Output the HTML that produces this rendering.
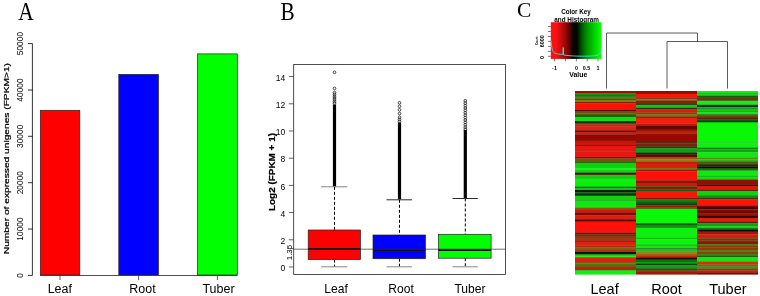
<!DOCTYPE html><html><head><meta charset="utf-8"><title>Figure</title>
<style>html,body{margin:0;padding:0;background:#fff;}body{width:760px;height:296px;overflow:hidden;font-family:"Liberation Sans", sans-serif;}svg{display:block}text{font-family:"Liberation Sans", sans-serif;fill:#000}.s{font-family:"Liberation Serif", serif}</style>
</head><body>
<svg style="will-change:transform" width="760" height="296" viewBox="0 0 760 296">
<rect width="760" height="296" fill="#fff"/>
<g id="panelA">
<text class="s" x="18.2" y="20.3" font-size="25" textLength="15.5" lengthAdjust="spacingAndGlyphs">A</text>
<path d="M32.4 275.4 V43.6" stroke="#000" stroke-width="0.8" fill="none"/>
<path d="M40 275.5 H237.5" stroke="#222" stroke-width="0.8" fill="none"/>
<path d="M32.4 275.4 H28" stroke="#000" stroke-width="0.8"/>
<text transform="translate(22.8 275.4) rotate(-90)" font-size="8.4" text-anchor="middle">0</text>
<path d="M32.4 229.0 H28" stroke="#000" stroke-width="0.8"/>
<text transform="translate(22.8 229.0) rotate(-90)" font-size="8.4" text-anchor="middle">10000</text>
<path d="M32.4 182.7 H28" stroke="#000" stroke-width="0.8"/>
<text transform="translate(22.8 182.7) rotate(-90)" font-size="8.4" text-anchor="middle">20000</text>
<path d="M32.4 136.3 H28" stroke="#000" stroke-width="0.8"/>
<text transform="translate(22.8 136.3) rotate(-90)" font-size="8.4" text-anchor="middle">30000</text>
<path d="M32.4 90.0 H28" stroke="#000" stroke-width="0.8"/>
<text transform="translate(22.8 90.0) rotate(-90)" font-size="8.4" text-anchor="middle">40000</text>
<path d="M32.4 43.6 H28" stroke="#000" stroke-width="0.8"/>
<text transform="translate(22.8 43.6) rotate(-90)" font-size="8.4" text-anchor="middle">50000</text>
<text transform="translate(8.7 158.6) rotate(-90) scale(1 0.76)" font-size="10.2" stroke="#000" stroke-width="0.3" text-anchor="middle">Number of expressed unigenes (FPKM&gt;1)</text>
<rect x="40.3" y="110.3" width="39.5" height="164.7" fill="#ff0000" stroke="#222" stroke-width="0.7"/>
<path d="M60.0 275.5 V280" stroke="#333" stroke-width="0.8"/>
<text transform="translate(59.8 293.2) scale(0.925 1)" font-size="13.5" text-anchor="middle">Leaf</text>
<rect x="118.8" y="74.4" width="39.6" height="200.6" fill="#0000ff" stroke="#222" stroke-width="0.7"/>
<path d="M138.6 275.5 V280" stroke="#333" stroke-width="0.8"/>
<text transform="translate(142.5 293.2) scale(0.925 1)" font-size="13.5" text-anchor="middle">Root</text>
<rect x="197.5" y="53.9" width="39.8" height="221.1" fill="#00ff00" stroke="#222" stroke-width="0.7"/>
<path d="M217.4 275.5 V280" stroke="#333" stroke-width="0.8"/>
<text transform="translate(218.5 293.2) scale(0.925 1)" font-size="13.5" text-anchor="middle">Tuber</text>
</g>
<g id="panelB">
<text class="s" x="280.6" y="20.1" font-size="24.5" textLength="14.2" lengthAdjust="spacingAndGlyphs">B</text>
<rect x="293.7" y="64.4" width="211.8" height="210.0" fill="none" stroke="#222" stroke-width="0.8"/>
<path d="M293.7 267.0 H288.8" stroke="#222" stroke-width="0.7"/>
<text x="285.2" y="271.1" font-size="8.5" text-anchor="end">0</text>
<path d="M293.7 239.8 H288.8" stroke="#222" stroke-width="0.7"/>
<text x="285.2" y="243.9" font-size="8.5" text-anchor="end">2</text>
<path d="M293.7 212.6 H288.8" stroke="#222" stroke-width="0.7"/>
<text x="285.2" y="216.7" font-size="8.5" text-anchor="end">4</text>
<path d="M293.7 185.4 H288.8" stroke="#222" stroke-width="0.7"/>
<text x="285.2" y="189.5" font-size="8.5" text-anchor="end">6</text>
<path d="M293.7 158.2 H288.8" stroke="#222" stroke-width="0.7"/>
<text x="285.2" y="162.3" font-size="8.5" text-anchor="end">8</text>
<path d="M293.7 131.0 H288.8" stroke="#222" stroke-width="0.7"/>
<text x="285.2" y="135.1" font-size="8.5" text-anchor="end">10</text>
<path d="M293.7 103.8 H288.8" stroke="#222" stroke-width="0.7"/>
<text x="285.2" y="107.9" font-size="8.5" text-anchor="end">12</text>
<path d="M293.7 76.6 H288.8" stroke="#222" stroke-width="0.7"/>
<text x="285.2" y="80.7" font-size="8.5" text-anchor="end">14</text>
<path d="M293.7 248.6 H288.8" stroke="#222" stroke-width="0.7"/>
<text transform="translate(291.5 252.6) rotate(-90)" font-size="7.8" text-anchor="middle">1.35</text>
<text transform="translate(275.3 172) rotate(-90)" font-size="8.6" font-weight="bold" text-anchor="middle" stroke="#000" stroke-width="0.2" textLength="78" lengthAdjust="spacingAndGlyphs">Log2 (FPKM + 1)</text>
<path d="M334.5 186.8 V230.0 M334.5 259.6 V267" stroke="#000" stroke-width="1" stroke-dasharray="3 2" fill="none"/>
<path d="M321.0 186.8 H347.3" stroke="#777" stroke-width="0.9" fill="none"/>
<path d="M321.0 266.8 H347.3" stroke="#888" stroke-width="1" fill="none"/>
<rect x="308.2" y="230.0" width="52.3" height="29.6" fill="#ff0000" stroke="#222" stroke-width="0.7"/>
<path d="M308.2 249.0 H360.5" stroke="#111" stroke-width="1.8"/>
<path d="M334.5 104.5 V186.3" stroke="#000" stroke-width="3.2"/>
<circle cx="334.5" cy="72.3" r="1.35" fill="none" stroke="#111" stroke-width="0.75"/>
<circle cx="334.5" cy="88.4" r="1.35" fill="none" stroke="#111" stroke-width="0.75"/>
<circle cx="334.5" cy="92.6" r="1.35" fill="none" stroke="#111" stroke-width="0.75"/>
<circle cx="334.5" cy="94.4" r="1.35" fill="none" stroke="#111" stroke-width="0.75"/>
<circle cx="334.5" cy="96.2" r="1.35" fill="none" stroke="#111" stroke-width="0.75"/>
<circle cx="334.5" cy="98.0" r="1.35" fill="none" stroke="#111" stroke-width="0.75"/>
<circle cx="334.5" cy="99.8" r="1.35" fill="none" stroke="#111" stroke-width="0.75"/>
<circle cx="334.5" cy="101.6" r="1.35" fill="none" stroke="#111" stroke-width="0.75"/>
<circle cx="334.5" cy="103.2" r="1.35" fill="none" stroke="#111" stroke-width="0.75"/>
<text transform="translate(336.0 292.8) scale(0.93 1)" font-size="13" text-anchor="middle">Leaf</text>
<path d="M399.5 199.8 V235.0 M399.5 258.7 V267" stroke="#000" stroke-width="1" stroke-dasharray="3 2" fill="none"/>
<path d="M386.5 199.8 H412.0" stroke="#111" stroke-width="0.9" fill="none"/>
<path d="M386.5 266.8 H412.0" stroke="#888" stroke-width="1" fill="none"/>
<rect x="373.0" y="235.0" width="52.4" height="23.7" fill="#0000ff" stroke="#222" stroke-width="0.7"/>
<path d="M373.0 250.0 H425.4" stroke="#111" stroke-width="1.8"/>
<path d="M399.5 122.5 V199.3" stroke="#000" stroke-width="3.2"/>
<circle cx="399.5" cy="102.8" r="1.35" fill="none" stroke="#111" stroke-width="0.75"/>
<circle cx="399.5" cy="106.3" r="1.35" fill="none" stroke="#111" stroke-width="0.75"/>
<circle cx="399.5" cy="109.9" r="1.35" fill="none" stroke="#111" stroke-width="0.75"/>
<circle cx="399.5" cy="113.6" r="1.35" fill="none" stroke="#111" stroke-width="0.75"/>
<circle cx="399.5" cy="117.3" r="1.35" fill="none" stroke="#111" stroke-width="0.75"/>
<circle cx="399.5" cy="119.5" r="1.35" fill="none" stroke="#111" stroke-width="0.75"/>
<circle cx="399.5" cy="121.5" r="1.35" fill="none" stroke="#111" stroke-width="0.75"/>
<text transform="translate(401.0 292.8) scale(0.93 1)" font-size="13" text-anchor="middle">Root</text>
<path d="M465.3 198.5 V234.3 M465.3 258.2 V267" stroke="#000" stroke-width="1" stroke-dasharray="3 2" fill="none"/>
<path d="M452.5 198.5 H477.8" stroke="#111" stroke-width="0.9" fill="none"/>
<path d="M452.5 266.8 H477.8" stroke="#888" stroke-width="1" fill="none"/>
<rect x="438.4" y="234.3" width="52.7" height="23.9" fill="#00ff00" stroke="#222" stroke-width="0.7"/>
<path d="M438.4 250.0 H491.1" stroke="#111" stroke-width="1.8"/>
<path d="M465.3 130.0 V198.0" stroke="#000" stroke-width="3.2"/>
<circle cx="465.3" cy="100.8" r="1.35" fill="none" stroke="#111" stroke-width="0.75"/>
<circle cx="465.3" cy="103.2" r="1.35" fill="none" stroke="#111" stroke-width="0.75"/>
<circle cx="465.3" cy="105.6" r="1.35" fill="none" stroke="#111" stroke-width="0.75"/>
<circle cx="465.3" cy="108.0" r="1.35" fill="none" stroke="#111" stroke-width="0.75"/>
<circle cx="465.3" cy="110.4" r="1.35" fill="none" stroke="#111" stroke-width="0.75"/>
<circle cx="465.3" cy="112.8" r="1.35" fill="none" stroke="#111" stroke-width="0.75"/>
<circle cx="465.3" cy="115.2" r="1.35" fill="none" stroke="#111" stroke-width="0.75"/>
<circle cx="465.3" cy="117.6" r="1.35" fill="none" stroke="#111" stroke-width="0.75"/>
<circle cx="465.3" cy="120.0" r="1.35" fill="none" stroke="#111" stroke-width="0.75"/>
<circle cx="465.3" cy="122.4" r="1.35" fill="none" stroke="#111" stroke-width="0.75"/>
<circle cx="465.3" cy="124.8" r="1.35" fill="none" stroke="#111" stroke-width="0.75"/>
<circle cx="465.3" cy="127.2" r="1.35" fill="none" stroke="#111" stroke-width="0.75"/>
<circle cx="465.3" cy="129.2" r="1.35" fill="none" stroke="#111" stroke-width="0.75"/>
<text transform="translate(470.0 292.8) scale(0.93 1)" font-size="13" text-anchor="middle">Tuber</text>
<path d="M293.7 249.2 H505.5" stroke="#333" stroke-width="0.7"/>
</g>
<g id="panelC">
<text class="s" x="517.1" y="16.9" font-size="21.5">C</text>
<defs><linearGradient id="ck" x1="0" x2="1" y1="0" y2="0"><stop offset="0" stop-color="#ff1010"/><stop offset="0.11" stop-color="#f81010"/><stop offset="0.2" stop-color="#c80c0c"/><stop offset="0.3" stop-color="#900808"/><stop offset="0.38" stop-color="#500404"/><stop offset="0.43" stop-color="#100000"/><stop offset="0.52" stop-color="#000800"/><stop offset="0.6" stop-color="#005000"/><stop offset="0.7" stop-color="#009000"/><stop offset="0.82" stop-color="#00c000"/><stop offset="0.92" stop-color="#00e800"/><stop offset="1" stop-color="#10ff10"/></linearGradient></defs>
<text x="576" y="13.5" font-size="6.3" font-weight="bold" text-anchor="middle">Color Key</text>
<text x="576.6" y="21.6" font-size="6.4" font-weight="bold" text-anchor="middle">and Histogram</text>
<rect x="550.8" y="22.2" width="50.8" height="36.7" fill="url(#ck)"/>
<path d="M551 40.5 C551.6 48 552.5 52 554.5 53 C557 54.2 560 54.3 562.9 54.3 L563.2 47.5 L563.6 55 C568 55.6 572 56 577 56.1 C585 56.3 592 56.2 596 55.6 C599 55 600.5 53.5 601.4 50" stroke="#48dce0" stroke-width="0.9" fill="none"/>
<text x="554.5" y="69.5" font-size="5.4" font-weight="bold" text-anchor="middle">-1</text>
<text x="576.4" y="69.5" font-size="5.4" font-weight="bold" text-anchor="middle">0</text>
<text x="586.4" y="69.5" font-size="5.4" font-weight="bold" text-anchor="middle">0.5</text>
<text x="598.0" y="69.5" font-size="5.4" font-weight="bold" text-anchor="middle">1</text>
<text x="578.3" y="77" font-size="6.9" font-weight="bold" text-anchor="middle">Value</text>
<path d="M550.8 26.5 H548 M550.8 31.5 H548 M550.8 36.5 H548 M550.8 41.4 H548 M550.8 46.4 H548 M550.8 51.4 H548 M550.8 56.3 H548" stroke="#222" stroke-width="0.6" fill="none"/>
<path d="M554.5 58.9 V61.3 M565.5 58.9 V61.3 M576.4 58.9 V61.3 M587.3 58.9 V61.3 M598 58.9 V61.3" stroke="#222" stroke-width="0.6" fill="none"/>
<text transform="translate(543.6 57.4) rotate(-90)" font-size="5.5" font-weight="bold" text-anchor="middle">0</text>
<text transform="translate(543.6 41.2) rotate(-90)" font-size="5.5" font-weight="bold" text-anchor="middle">6000</text>
<text transform="translate(538 40.6) rotate(-90)" font-size="2.9" font-weight="bold" text-anchor="middle">Count</text>
<path d="M606.5 88.5 V33 H697.5 V41.5 M667 88.5 V41.5 H727.5 V88.5" stroke="#333" stroke-width="0.8" fill="none"/>
<rect x="575" y="91.00" width="61" height="2.70" fill="#a01000"/>
<rect x="575" y="93.40" width="61" height="2.40" fill="#109010"/>
<rect x="575" y="95.50" width="61" height="1.30" fill="#004800"/>
<rect x="575" y="96.50" width="61" height="1.60" fill="#20a010"/>
<rect x="575" y="97.80" width="61" height="1.50" fill="#707010"/>
<rect x="575" y="99.00" width="61" height="1.30" fill="#505000"/>
<rect x="575" y="100.00" width="61" height="2.30" fill="#808010"/>
<rect x="575" y="102.00" width="61" height="1.50" fill="#802000"/>
<rect x="575" y="103.20" width="61" height="7.10" fill="#ff1000"/>
<rect x="575" y="110.00" width="61" height="1.30" fill="#500000"/>
<rect x="575" y="111.00" width="61" height="2.60" fill="#705010"/>
<rect x="575" y="113.30" width="61" height="2.20" fill="#506010"/>
<rect x="575" y="115.20" width="61" height="1.80" fill="#104000"/>
<rect x="575" y="116.70" width="61" height="4.60" fill="#10e010"/>
<rect x="575" y="121.00" width="61" height="2.30" fill="#083008"/>
<rect x="575" y="123.00" width="61" height="1.80" fill="#903010"/>
<rect x="575" y="124.50" width="61" height="2.00" fill="#b82810"/>
<rect x="575" y="126.20" width="61" height="4.40" fill="#e02010"/>
<rect x="575" y="130.30" width="61" height="1.80" fill="#600800"/>
<rect x="575" y="131.80" width="61" height="2.90" fill="#c82010"/>
<rect x="575" y="134.40" width="61" height="1.90" fill="#800c00"/>
<rect x="575" y="136.00" width="61" height="5.00" fill="#900800"/>
<rect x="575" y="140.70" width="61" height="2.60" fill="#c01808"/>
<rect x="575" y="143.00" width="61" height="2.30" fill="#c81808"/>
<rect x="575" y="145.00" width="61" height="1.30" fill="#901008"/>
<rect x="575" y="146.00" width="61" height="4.90" fill="#e81810"/>
<rect x="575" y="150.60" width="61" height="1.10" fill="#b01008"/>
<rect x="575" y="151.40" width="61" height="5.90" fill="#e81810"/>
<rect x="575" y="157.00" width="61" height="1.80" fill="#702008"/>
<rect x="575" y="158.50" width="61" height="3.40" fill="#785010"/>
<rect x="575" y="161.60" width="61" height="1.40" fill="#205010"/>
<rect x="575" y="162.70" width="61" height="5.50" fill="#10d010"/>
<rect x="575" y="167.90" width="61" height="1.80" fill="#20f020"/>
<rect x="575" y="169.40" width="61" height="3.40" fill="#10d810"/>
<rect x="575" y="172.50" width="61" height="1.80" fill="#103808"/>
<rect x="575" y="174.00" width="61" height="1.50" fill="#503010"/>
<rect x="575" y="175.20" width="61" height="3.80" fill="#18c818"/>
<rect x="575" y="178.70" width="61" height="3.60" fill="#10f010"/>
<rect x="575" y="182.00" width="61" height="5.00" fill="#08f008"/>
<rect x="575" y="186.70" width="61" height="1.80" fill="#106010"/>
<rect x="575" y="188.20" width="61" height="2.10" fill="#10c010"/>
<rect x="575" y="190.00" width="61" height="2.40" fill="#082008"/>
<rect x="575" y="192.10" width="61" height="1.90" fill="#186018"/>
<rect x="575" y="193.70" width="61" height="2.30" fill="#0c300c"/>
<rect x="575" y="195.70" width="61" height="4.90" fill="#10d010"/>
<rect x="575" y="200.30" width="61" height="1.40" fill="#10a010"/>
<rect x="575" y="201.40" width="61" height="6.50" fill="#10e810"/>
<rect x="575" y="207.60" width="61" height="2.70" fill="#905010"/>
<rect x="575" y="210.00" width="61" height="2.60" fill="#d01808"/>
<rect x="575" y="212.30" width="61" height="3.40" fill="#880800"/>
<rect x="575" y="215.40" width="61" height="4.20" fill="#d82010"/>
<rect x="575" y="219.30" width="61" height="2.60" fill="#500800"/>
<rect x="575" y="221.60" width="61" height="6.70" fill="#ff1008"/>
<rect x="575" y="228.00" width="61" height="4.80" fill="#ff1008"/>
<rect x="575" y="232.50" width="61" height="2.00" fill="#801000"/>
<rect x="575" y="234.20" width="61" height="1.90" fill="#603010"/>
<rect x="575" y="235.80" width="61" height="2.50" fill="#a03010"/>
<rect x="575" y="238.00" width="61" height="2.50" fill="#904010"/>
<rect x="575" y="240.20" width="61" height="1.90" fill="#a01808"/>
<rect x="575" y="241.80" width="61" height="4.00" fill="#e02010"/>
<rect x="575" y="245.50" width="61" height="1.90" fill="#a03010"/>
<rect x="575" y="247.10" width="61" height="3.10" fill="#806010"/>
<rect x="575" y="249.90" width="61" height="2.40" fill="#b03010"/>
<rect x="575" y="252.00" width="61" height="2.60" fill="#081808"/>
<rect x="575" y="254.30" width="61" height="1.60" fill="#10a010"/>
<rect x="575" y="255.60" width="61" height="1.90" fill="#20f020"/>
<rect x="575" y="257.20" width="61" height="5.10" fill="#e02010"/>
<rect x="575" y="262.00" width="61" height="1.60" fill="#905010"/>
<rect x="575" y="263.30" width="61" height="2.00" fill="#408010"/>
<rect x="575" y="265.00" width="61" height="2.30" fill="#905010"/>
<rect x="575" y="267.00" width="61" height="2.20" fill="#c02010"/>
<rect x="575" y="268.90" width="61" height="1.90" fill="#406010"/>
<rect x="575" y="270.50" width="61" height="4.10" fill="#10f010"/>
<rect x="636" y="91.00" width="61" height="3.20" fill="#901000"/>
<rect x="636" y="93.90" width="61" height="4.50" fill="#f81808"/>
<rect x="636" y="98.10" width="61" height="1.50" fill="#803010"/>
<rect x="636" y="99.30" width="61" height="1.60" fill="#807010"/>
<rect x="636" y="100.60" width="61" height="3.70" fill="#882010"/>
<rect x="636" y="104.00" width="61" height="1.50" fill="#205010"/>
<rect x="636" y="105.20" width="61" height="3.00" fill="#10c010"/>
<rect x="636" y="107.90" width="61" height="1.80" fill="#303008"/>
<rect x="636" y="109.40" width="61" height="3.40" fill="#d82010"/>
<rect x="636" y="112.50" width="61" height="1.90" fill="#804010"/>
<rect x="636" y="114.10" width="61" height="2.90" fill="#807010"/>
<rect x="636" y="116.70" width="61" height="1.60" fill="#703010"/>
<rect x="636" y="118.00" width="61" height="5.70" fill="#f02010"/>
<rect x="636" y="123.40" width="61" height="2.90" fill="#c01808"/>
<rect x="636" y="126.00" width="61" height="3.20" fill="#600800"/>
<rect x="636" y="128.90" width="61" height="2.10" fill="#901000"/>
<rect x="636" y="130.70" width="61" height="3.10" fill="#b82010"/>
<rect x="636" y="133.50" width="61" height="2.80" fill="#901000"/>
<rect x="636" y="136.00" width="61" height="6.20" fill="#980800"/>
<rect x="636" y="141.90" width="61" height="1.90" fill="#503010"/>
<rect x="636" y="143.50" width="61" height="3.40" fill="#802010"/>
<rect x="636" y="146.60" width="61" height="2.10" fill="#105010"/>
<rect x="636" y="148.40" width="61" height="4.70" fill="#10a010"/>
<rect x="636" y="152.80" width="61" height="1.80" fill="#101808"/>
<rect x="636" y="154.30" width="61" height="3.40" fill="#600800"/>
<rect x="636" y="157.40" width="61" height="2.20" fill="#a05010"/>
<rect x="636" y="159.30" width="61" height="2.60" fill="#908010"/>
<rect x="636" y="161.60" width="61" height="2.70" fill="#c02010"/>
<rect x="636" y="164.00" width="61" height="4.20" fill="#d82010"/>
<rect x="636" y="167.90" width="61" height="1.80" fill="#807010"/>
<rect x="636" y="169.40" width="61" height="2.30" fill="#a01808"/>
<rect x="636" y="171.40" width="61" height="9.20" fill="#ff1008"/>
<rect x="636" y="180.30" width="61" height="3.60" fill="#981000"/>
<rect x="636" y="183.60" width="61" height="3.10" fill="#d01808"/>
<rect x="636" y="186.40" width="61" height="1.80" fill="#205010"/>
<rect x="636" y="187.90" width="61" height="1.90" fill="#901808"/>
<rect x="636" y="189.50" width="61" height="1.80" fill="#106010"/>
<rect x="636" y="191.00" width="61" height="6.80" fill="#f81808"/>
<rect x="636" y="197.50" width="61" height="1.90" fill="#901000"/>
<rect x="636" y="199.10" width="61" height="3.10" fill="#108010"/>
<rect x="636" y="201.90" width="61" height="2.20" fill="#106010"/>
<rect x="636" y="203.80" width="61" height="1.80" fill="#104008"/>
<rect x="636" y="205.30" width="61" height="2.20" fill="#a01808"/>
<rect x="636" y="207.20" width="61" height="1.80" fill="#604010"/>
<rect x="636" y="208.70" width="61" height="14.80" fill="#08f808"/>
<rect x="636" y="223.20" width="61" height="1.80" fill="#084008"/>
<rect x="636" y="224.70" width="61" height="3.40" fill="#109010"/>
<rect x="636" y="227.80" width="61" height="10.20" fill="#10f010"/>
<rect x="636" y="237.70" width="61" height="2.00" fill="#10c010"/>
<rect x="636" y="239.40" width="61" height="5.10" fill="#08f808"/>
<rect x="636" y="244.20" width="61" height="1.90" fill="#18c018"/>
<rect x="636" y="245.80" width="61" height="2.80" fill="#10e810"/>
<rect x="636" y="248.30" width="61" height="1.40" fill="#106010"/>
<rect x="636" y="249.40" width="61" height="2.40" fill="#20c020"/>
<rect x="636" y="251.50" width="61" height="2.10" fill="#908020"/>
<rect x="636" y="253.30" width="61" height="2.20" fill="#a06010"/>
<rect x="636" y="255.20" width="61" height="2.60" fill="#d02010"/>
<rect x="636" y="257.50" width="61" height="2.40" fill="#100808"/>
<rect x="636" y="259.60" width="61" height="2.70" fill="#107010"/>
<rect x="636" y="262.00" width="61" height="2.00" fill="#10a010"/>
<rect x="636" y="263.70" width="61" height="1.90" fill="#084008"/>
<rect x="636" y="265.30" width="61" height="3.20" fill="#10a010"/>
<rect x="636" y="268.20" width="61" height="1.90" fill="#106010"/>
<rect x="636" y="269.80" width="61" height="2.30" fill="#705010"/>
<rect x="636" y="271.80" width="61" height="2.80" fill="#a01808"/>
<rect x="697" y="91.00" width="61" height="2.70" fill="#10f010"/>
<rect x="697" y="93.40" width="61" height="1.20" fill="#108010"/>
<rect x="697" y="94.30" width="61" height="1.80" fill="#10d010"/>
<rect x="697" y="95.80" width="61" height="1.70" fill="#106010"/>
<rect x="697" y="97.20" width="61" height="1.00" fill="#304010"/>
<rect x="697" y="97.90" width="61" height="2.70" fill="#703808"/>
<rect x="697" y="100.30" width="61" height="1.20" fill="#206010"/>
<rect x="697" y="101.20" width="61" height="3.50" fill="#10f010"/>
<rect x="697" y="104.40" width="61" height="1.10" fill="#109010"/>
<rect x="697" y="105.20" width="61" height="1.90" fill="#041004"/>
<rect x="697" y="106.80" width="61" height="1.70" fill="#10c010"/>
<rect x="697" y="108.20" width="61" height="1.60" fill="#108010"/>
<rect x="697" y="109.50" width="61" height="2.10" fill="#10d010"/>
<rect x="697" y="111.30" width="61" height="1.10" fill="#108010"/>
<rect x="697" y="112.10" width="61" height="2.50" fill="#10e810"/>
<rect x="697" y="114.30" width="61" height="1.50" fill="#186018"/>
<rect x="697" y="115.50" width="61" height="2.50" fill="#803808"/>
<rect x="697" y="117.70" width="61" height="1.80" fill="#403008"/>
<rect x="697" y="119.20" width="61" height="1.70" fill="#105010"/>
<rect x="697" y="120.60" width="61" height="1.60" fill="#083008"/>
<rect x="697" y="121.90" width="61" height="1.90" fill="#10c010"/>
<rect x="697" y="123.50" width="61" height="12.80" fill="#08f808"/>
<rect x="697" y="136.00" width="61" height="6.50" fill="#08f808"/>
<rect x="697" y="142.20" width="61" height="1.60" fill="#10d010"/>
<rect x="697" y="143.50" width="61" height="4.50" fill="#10f010"/>
<rect x="697" y="147.70" width="61" height="1.80" fill="#108010"/>
<rect x="697" y="149.20" width="61" height="3.40" fill="#10a810"/>
<rect x="697" y="152.30" width="61" height="5.80" fill="#10e810"/>
<rect x="697" y="157.80" width="61" height="1.80" fill="#509010"/>
<rect x="697" y="159.30" width="61" height="1.90" fill="#20c020"/>
<rect x="697" y="160.90" width="61" height="1.40" fill="#608010"/>
<rect x="697" y="162.00" width="61" height="1.80" fill="#605010"/>
<rect x="697" y="163.50" width="61" height="1.80" fill="#304010"/>
<rect x="697" y="165.00" width="61" height="1.80" fill="#402008"/>
<rect x="697" y="166.50" width="61" height="1.80" fill="#101008"/>
<rect x="697" y="168.00" width="61" height="1.70" fill="#106010"/>
<rect x="697" y="169.40" width="61" height="1.40" fill="#204010"/>
<rect x="697" y="170.50" width="61" height="5.40" fill="#10e810"/>
<rect x="697" y="175.60" width="61" height="1.90" fill="#10c010"/>
<rect x="697" y="177.20" width="61" height="2.60" fill="#10d810"/>
<rect x="697" y="179.50" width="61" height="2.80" fill="#901000"/>
<rect x="697" y="182.00" width="61" height="2.60" fill="#901000"/>
<rect x="697" y="184.30" width="61" height="1.90" fill="#400800"/>
<rect x="697" y="185.90" width="61" height="4.20" fill="#e01808"/>
<rect x="697" y="189.80" width="61" height="1.50" fill="#503010"/>
<rect x="697" y="191.00" width="61" height="4.50" fill="#10d010"/>
<rect x="697" y="195.20" width="61" height="2.60" fill="#109010"/>
<rect x="697" y="197.50" width="61" height="1.90" fill="#503010"/>
<rect x="697" y="199.10" width="61" height="6.50" fill="#f81808"/>
<rect x="697" y="205.30" width="61" height="1.90" fill="#801000"/>
<rect x="697" y="206.90" width="61" height="2.60" fill="#400800"/>
<rect x="697" y="209.20" width="61" height="1.80" fill="#901008"/>
<rect x="697" y="210.70" width="61" height="2.70" fill="#700800"/>
<rect x="697" y="213.10" width="61" height="3.10" fill="#981008"/>
<rect x="697" y="215.90" width="61" height="2.40" fill="#300800"/>
<rect x="697" y="218.00" width="61" height="3.90" fill="#d82010"/>
<rect x="697" y="221.60" width="61" height="1.90" fill="#502008"/>
<rect x="697" y="223.20" width="61" height="3.40" fill="#10a010"/>
<rect x="697" y="226.30" width="61" height="2.00" fill="#10d010"/>
<rect x="697" y="228.00" width="61" height="1.90" fill="#108010"/>
<rect x="697" y="229.60" width="61" height="2.30" fill="#100808"/>
<rect x="697" y="231.60" width="61" height="2.90" fill="#a01808"/>
<rect x="697" y="234.20" width="61" height="4.60" fill="#d02010"/>
<rect x="697" y="238.50" width="61" height="2.00" fill="#405010"/>
<rect x="697" y="240.20" width="61" height="1.90" fill="#803010"/>
<rect x="697" y="241.80" width="61" height="2.40" fill="#901008"/>
<rect x="697" y="243.90" width="61" height="2.20" fill="#508010"/>
<rect x="697" y="245.80" width="61" height="2.00" fill="#804010"/>
<rect x="697" y="247.50" width="61" height="2.70" fill="#a03010"/>
<rect x="697" y="249.90" width="61" height="2.40" fill="#508010"/>
<rect x="697" y="252.00" width="61" height="2.30" fill="#904010"/>
<rect x="697" y="254.00" width="61" height="2.20" fill="#408010"/>
<rect x="697" y="255.90" width="61" height="1.30" fill="#205010"/>
<rect x="697" y="256.90" width="61" height="5.10" fill="#10e810"/>
<rect x="697" y="261.70" width="61" height="3.10" fill="#d03010"/>
<rect x="697" y="264.50" width="61" height="1.90" fill="#806010"/>
<rect x="697" y="266.10" width="61" height="2.70" fill="#409010"/>
<rect x="697" y="268.50" width="61" height="2.30" fill="#804010"/>
<rect x="697" y="270.50" width="61" height="2.40" fill="#c02010"/>
<rect x="697" y="272.60" width="61" height="2.00" fill="#800800"/>
<text x="604.6" y="294" font-size="14.5" text-anchor="middle">Leaf</text>
<text x="666.5" y="294" font-size="14.5" text-anchor="middle">Root</text>
<text x="727.9" y="294" font-size="14.5" text-anchor="middle">Tuber</text>
</g>
</svg></body></html>
